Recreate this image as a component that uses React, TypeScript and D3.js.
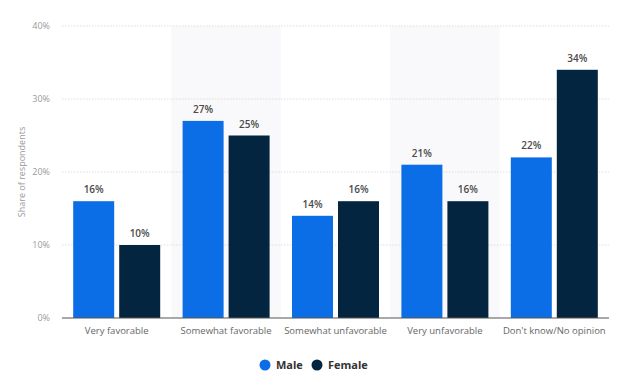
import React from "react";
import * as d3 from "d3";

const categories = ["Very favorable", "Somewhat favorable", "Somewhat unfavorable", "Very unfavorable", "Don't know/No opinion"];
const seriesNames = ["Male", "Female"];
const maleValues = [16, 27, 14, 21, 22];
const femaleValues = [10, 25, 16, 16, 34];
const yTicks = [0, 10, 20, 30, 40];

const colors = ["#0b6ee6", "#04253f"];
const font = "'Open Sans', 'DejaVu Sans', sans-serif";

export default function App() {
  const width = 620, height = 388;
  const left = 62, right = 609, top = 26, bottom = 318;

  const x = d3.scaleBand<string>().domain(categories).range([left, right]);
  const y = d3.scaleLinear().domain([0, 40]).range([bottom, top]);
  const barW = 41, gap = 5;
  const values = [maleValues, femaleValues];

  return (
    <svg width={width} height={height} style={{ position: "absolute", left: 0, top: 0, fontFamily: font }}>
      <rect width={width} height={height} fill="#fff" />
      {/* alternating column shading */}
      {categories.map((c, i) => i % 2 === 1 ? (
        <rect key={c} x={x(c)} y={top} width={x.bandwidth()} height={bottom - top} fill="#f9f9fb" />
      ) : null)}
      {/* gridlines + y ticks */}
      {yTicks.map(t => (
        <g key={t}>
          {t > 0 && <line x1={left} x2={right} y1={y(t)} y2={y(t)} stroke="#d6d6d6" strokeWidth={0.8} strokeDasharray="1.5,1.5" />}
          <text x={50} y={y(t)} dy="0.35em" textAnchor="end" fontSize={9} fill="#9a9a9a">{t}%</text>
        </g>
      ))}
      <text transform={`translate(25,${(top + bottom) / 2}) rotate(-90)`} textAnchor="middle" fontSize={9} fill="#9a9a9a">Share of respondents</text>
      {/* bars */}
      {categories.map((c, i) => {
        const cx = (x(c) as number) + x.bandwidth() / 2;
        return values.map((vals, s) => {
          const bx = s === 0 ? cx - gap / 2 - barW : cx + gap / 2;
          const v = vals[i];
          return (
            <g key={c + s}>
              <rect x={bx} y={y(v)} width={barW} height={bottom - y(v)} fill={colors[s]} />
              <text x={bx + barW / 2} y={y(v) - 8} textAnchor="middle" fontSize={10} fontWeight={600} fill="#4a4a4a">{v}%</text>
            </g>
          );
        });
      })}
      <line x1={left} x2={right} y1={bottom} y2={bottom} stroke="#555" strokeWidth={1.2} />
      {categories.map(c => (
        <text key={c} x={(x(c) as number) + x.bandwidth() / 2} y={334} textAnchor="middle" fontSize={9.5} fill="#666">{c}</text>
      ))}
      {/* legend */}
      {seriesNames.map((n, i) => {
        const lx = i === 0 ? 265 : 317;
        return (
          <g key={n}>
            <circle cx={lx} cy={365} r={5.5} fill={colors[i]} />
            <text x={lx + 11} y={365} dy="0.35em" fontSize={11} fontWeight="bold" fill="#333">{n}</text>
          </g>
        );
      })}
    </svg>
  );
}
